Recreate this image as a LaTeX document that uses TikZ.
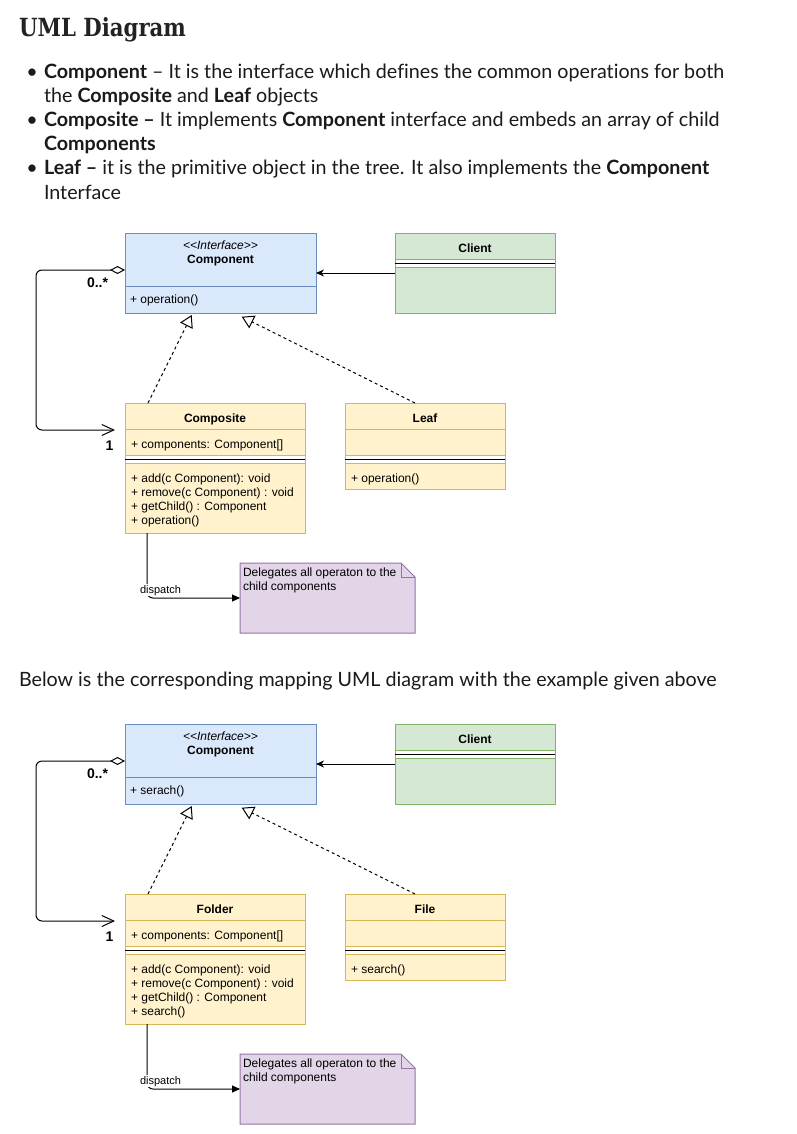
\documentclass[tikz,border=0pt]{standalone}
\usepackage{graphicx}
\usepackage{fontspec}
\setmainfont{Liberation Sans}
\newfontfamily\lato[Ligatures=NoCommon]{Lato}
\newfontfamily\headfont{DejaVu Serif}
\usetikzlibrary{arrows.meta,calc}
\definecolor{bluefill}{HTML}{DAE8FC}\definecolor{bluedraw}{HTML}{6C8EBF}
\definecolor{yelfill}{HTML}{FFF2CC}\definecolor{yeldraw}{HTML}{D6B656}
\definecolor{grnfill}{HTML}{D5E8D4}\definecolor{grndraw}{HTML}{82B366}
\definecolor{purfill}{HTML}{E1D5E7}\definecolor{purdraw}{HTML}{9673A6}
\definecolor{ink}{HTML}{1A1A1A}
\definecolor{headink}{HTML}{222222}
\tikzset{
 box/.style={rectangle,inner sep=0pt,outer sep=0pt,anchor=north west,line width=1pt},
 txt/.style={inner sep=0pt,outer sep=0pt,font=\fontsize{12}{14}\selectfont},
 btxt/.style={inner sep=0pt,outer sep=0pt,font=\fontsize{12}{14}\selectfont\bfseries},
 mult/.style={inner sep=0pt,outer sep=0pt,anchor=base west,font=\fontsize{14}{16}\selectfont\bfseries},
 page/.style={inner sep=0pt,outer sep=0pt,anchor=base west,text=ink,font=\lato\fontsize{19.7}{24}\selectfont},
 assoc/.style={line width=1pt,-{Stealth[length=8pt,width=7pt,inset=2.5pt]}},
 real/.style={line width=1pt,dash pattern=on 3pt off 3pt,-{Triangle[open,length=12pt,width=14pt]}},
 agg/.style={line width=1pt,rounded corners=6pt,{Diamond[open,length=15pt,width=8pt]}-{Straight Barb[length=12pt,width=11pt]}},
 disp/.style={line width=1pt,rounded corners=6pt,-{Triangle[length=8pt,width=7pt]}},
}
\newcommand\classsep[3]{%
 \fill[white] ($(#1.north west)+(0.5,#2)$) rectangle ($(#1.north east)+(-0.5,#2+8)$);
 \draw[black,line width=1pt] ($(#1.north west)+(0,#2+4)$) -- ($(#1.north east)+(0,#2+4)$);
 \draw[#3,line width=1pt] ($(#1.north west)+(0,#2)$) -- ($(#1.north east)+(0,#2)$);
 \draw[#3,line width=1pt] ($(#1.north west)+(0,#2+8)$) -- ($(#1.north east)+(0,#2+8)$);
}
\newcommand\umldiagram[6]{%
 % Component
 \node[box,fill=bluefill,draw=bluedraw,minimum width=191pt,minimum height=80pt] (#1comp) at (125,233) {};
 \draw[bluedraw,line width=1pt] ($(#1comp.north west)+(0,53)$) -- ($(#1comp.north east)+(0,53)$);
 \node[txt,anchor=base,font=\fontsize{12}{14}\selectfont\itshape] (#1stereo) at (220.5,249) {\textless\kern0pt\textless\kern0pt Interface\kern0pt\textgreater\kern0pt\textgreater};
 \node[btxt,anchor=base] (#1compname) at (220.5,263) {Component};
 \node[txt,anchor=base west] (#1compop) at (130,303) {#2};
 % Client
 \node[box,fill=grnfill,draw=grndraw,minimum width=160pt,minimum height=80pt] (#1client) at (395,233) {};
 \classsep{#1client}{26}{grndraw}
 \node[btxt,anchor=base] (#1clientname) at (475,252) {Client};
 % Composite
 \node[box,fill=yelfill,draw=yeldraw,minimum width=180pt,minimum height=130pt] (#1composite) at (125,403) {};
 \draw[yeldraw,line width=1pt] ($(#1composite.north west)+(0,26)$) -- ($(#1composite.north east)+(0,26)$);
 \classsep{#1composite}{52}{yeldraw}
 \node[btxt,anchor=base] (#1compositename) at (215,422) {#3};
 \node[txt,anchor=base west] (#1attr) at (131,448) {+ components: Component[]};
 \node[txt,anchor=base west] (#1m1) at (131,482.5) {+ add(c Component): void};
 \node[txt,anchor=base west] (#1m2) at (131,496.5) {+ remove(c Component) : void};
 \node[txt,anchor=base west] (#1m3) at (131,510.5) {+ getChild() : Component};
 \node[txt,anchor=base west] (#1m4) at (131,524.5) {#4};
 % Leaf
 \node[box,fill=yelfill,draw=yeldraw,minimum width=160pt,minimum height=86pt] (#1leaf) at (345,403) {};
 \draw[yeldraw,line width=1pt] ($(#1leaf.north west)+(0,26)$) -- ($(#1leaf.north east)+(0,26)$);
 \classsep{#1leaf}{52}{yeldraw}
 \node[btxt,anchor=base] (#1leafname) at (425,422) {#5};
 \node[txt,anchor=base west] (#1leafop) at (351,482) {#6};
 % Note
 \node[box,minimum width=175pt,minimum height=70pt] (#1note) at (240,563) {};
 \filldraw[fill=purfill,draw=purdraw,line width=1pt] (#1note.north west) -- ($(#1note.north east)+(-14,0)$) -- ($(#1note.north east)+(0,14)$) -- (#1note.south east) -- (#1note.south west) -- cycle;
 \draw[purdraw,line width=1pt] ($(#1note.north east)+(-14,0)$) -- ($(#1note.north east)+(-14,14)$) -- ($(#1note.north east)+(0,14)$);
 \node[txt,anchor=base west] (#1nt1) at (243,576) {Delegates all operaton to the};
 \node[txt,anchor=base west] (#1nt2) at (243,590) {child components};
 % connectors
 \draw[assoc] (#1client.west) -- (#1comp.east);
 \draw[real] ($(#1composite.north west)+(23,0)$) -- ($(#1comp.south west)+(66.7,2)$);
 \draw[real] ($(#1leaf.north west)+(70,0)$) -- ($(#1comp.south west)+(116.7,3.7)$);
 \draw[agg] ($(#1comp.west)+(0,-3)$) -- ++(-89,0) |- ($(#1composite.north west)+(-10,27)$);
 \node[mult] (#1mult0) at (87,287) {0..*};
 \node[mult] (#1mult1) at (105.5,450) {1};
 \draw[disp] ($(#1composite.south west)+(22,0)$) |- (#1note.west);
 \node[txt,anchor=base,font=\fontsize{11}{13}\selectfont,fill=white,inner sep=1pt] (#1displ) at (160.5,593) {dispatch};
}
\begin{document}
\begin{tikzpicture}[x=1pt,y=-1pt]
\useasboundingbox[fill=white] (0,0) rectangle (797,1134);
\node[inner sep=0pt,outer sep=0pt,anchor=base west,text=headink] (heading) at (19,36.7) {\scalebox{0.85}[1]{\headfont\bfseries\fontsize{25}{30}\selectfont UML Diagram}};
\node[page,anchor=base] (bul1) at (32,79) {•};
\node[page] (l1) at (44,79) {\textbf{Component} – It is the interface which defines the common operations for both};
\node[page] (l2) at (44,103) {the \textbf{Composite} and \textbf{Leaf} objects};
\node[page,anchor=base] (bul2) at (32,127) {•};
\node[page] (l3) at (44,127) {\textbf{Composite –} It implements \textbf{Component} interface and embeds an array of child};
\node[page] (l4) at (44,151) {\textbf{Components}};
\node[page,anchor=base] (bul3) at (32,175) {•};
\node[page] (l5) at (44,175) {\textbf{Leaf –} it is the primitive object in the tree. It also implements the \textbf{Component}};
\node[page] (l6) at (44,199) {Interface};
\node[page] (below) at (19,686) {Below is the corresponding mapping UML diagram with the example given above};
\umldiagram{a}{+ operation()}{Composite}{+ operation()}{Leaf}{+ operation()}
\begin{scope}[yshift=-491pt]
\umldiagram{b}{+ serach()}{Folder}{+ search()}{File}{+ search()}
\end{scope}
\end{tikzpicture}
\end{document}
